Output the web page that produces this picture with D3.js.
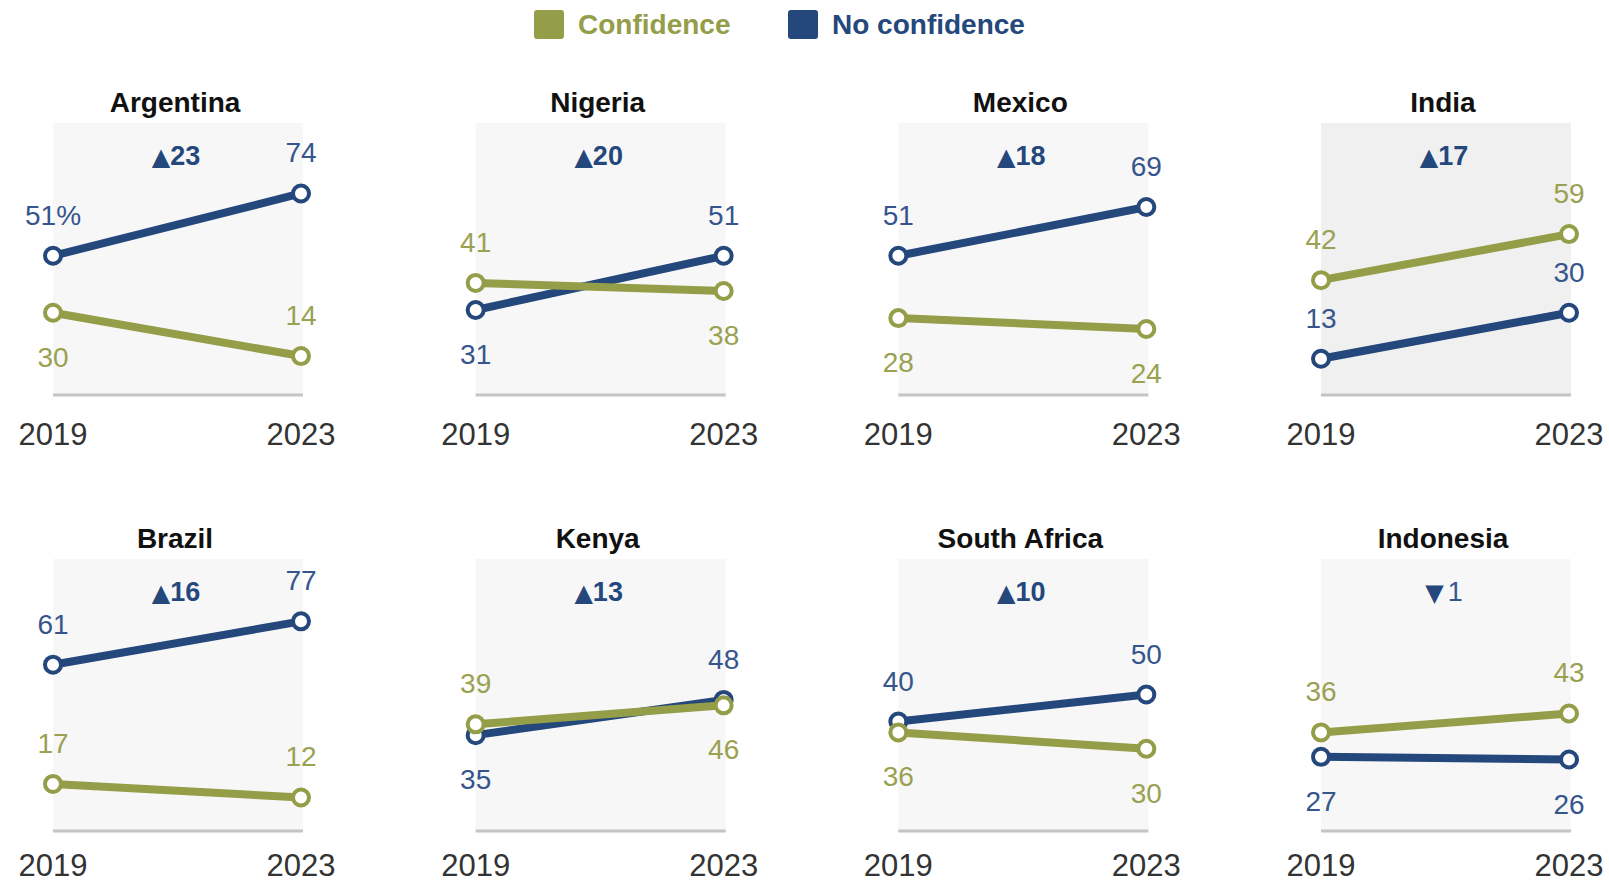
<!DOCTYPE html>
<html>
<head>
<meta charset="utf-8">
<script src="https://cdn.jsdelivr.net/npm/d3@7"></script>
<style>
  html, body { margin: 0; padding: 0; background: #ffffff; }
  svg { display: block; }
</style>
</head>
<body>
<svg id="chart" width="1609" height="885"></svg>
<script>
// Share of people with confidence / no confidence, 2019 vs 2023
const countries = ["Argentina", "Nigeria", "Mexico", "India", "Brazil", "Kenya", "South Africa", "Indonesia"];
const years = ["2019", "2023"];
const confidence   = [[30, 14], [41, 38], [28, 24], [42, 59], [17, 12], [39, 46], [36, 30], [36, 43]];
const noConfidence = [[51, 74], [31, 51], [51, 69], [13, 30], [61, 77], [35, 48], [40, 50], [27, 26]];
// whether the change in "no confidence" is statistically significant
const significant = [true, true, true, true, true, true, true, false];
// panel shaded a little darker
const highlighted = ["India"];

// label placement (above/below the point) for each country, per year
const confLabelSide = [
  ["below", "above"], ["above", "below"], ["below", "below"], ["above", "above"],
  ["above", "above"], ["above", "below"], ["below", "below"], ["above", "above"]
];
const noConfLabelSide = [
  ["above", "above"], ["below", "above"], ["above", "above"], ["above", "above"],
  ["above", "above"], ["below", "above"], ["above", "above"], ["below", "below"]
];

const colors = {
  conf: "#949d48",
  confText: "#9aa152",
  noConf: "#24477c",
  noConfText: "#36558d",
  bg: "#f7f7f7",
  bgHi: "#f0f0f0",
  base: "#c4c4c4",
  year: "#333333"
};

const sans = "'Liberation Sans', Arial, sans-serif";
const svg = d3.select("#chart");

// ----- legend -----
const legendItems = [
  { label: "Confidence", color: colors.conf, x: 534 },
  { label: "No confidence", color: colors.noConf, x: 788 }
];
const legend = svg.append("g");
legendItems.forEach(it => {
  legend.append("rect")
    .attr("x", it.x).attr("y", 10)
    .attr("width", 30).attr("height", 29)
    .attr("rx", 3)
    .attr("fill", it.color);
  legend.append("text")
    .attr("x", it.x + 44).attr("y", 34)
    .attr("font-family", sans)
    .attr("font-weight", 700)
    .attr("font-size", 28)
    .attr("fill", it.color)
    .text(it.label);
});

// ----- small multiples -----
const panelW = 250, panelH = 271;
const colX = d3.scaleLinear().domain([0, 3]).range([53, 1321]);
const rowY = d3.scaleLinear().domain([0, 1]).range([123, 559]);

const x = d3.scalePoint().domain(years).range([0, 248]);
const y = d3.scaleLinear().domain([0, 100]).range([panelH, 0]);

const line = d3.line()
  .x((d, i) => x(years[i]))
  .y(d => y(d));

countries.forEach((name, ci) => {
  const col = ci % 4, row = Math.floor(ci / 4);
  const g = svg.append("g")
    .attr("transform", `translate(${colX(col)},${rowY(row)})`);

  g.append("rect")
    .attr("x", 0).attr("y", 0)
    .attr("width", panelW).attr("height", panelH)
    .attr("fill", highlighted.includes(name) ? colors.bgHi : colors.bg);

  g.append("line")
    .attr("x1", 0).attr("x2", panelW)
    .attr("y1", panelH + 1).attr("y2", panelH + 1)
    .attr("stroke", colors.base)
    .attr("stroke-width", 3);

  // title
  g.append("text")
    .attr("x", panelW / 2 - 3).attr("y", -11)
    .attr("text-anchor", "middle")
    .attr("font-family", sans)
    .attr("font-weight", 700)
    .attr("font-size", 28)
    .attr("fill", "#111111")
    .text(name);

  // change in "no confidence"
  const diff = noConfidence[ci][1] - noConfidence[ci][0];
  const delta = g.append("text")
    .attr("x", panelW / 2 - 2).attr("y", 42)
    .attr("text-anchor", "middle")
    .attr("font-family", sans)
    .attr("font-size", 27)
    .attr("fill", colors.noConf);
  delta.append("tspan")
    .attr("font-family", "'DejaVu Sans', sans-serif")
    .attr("font-weight", 700)
    .attr("font-size", 24)
    .text(diff >= 0 ? "\u25B2" : "\u25BC");
  delta.append("tspan")
    .attr("font-weight", significant[ci] ? 700 : 400)
    .attr("fill", significant[ci] ? colors.noConf : colors.noConfText)
    .attr("dx", significant[ci] ? 0 : 4)
    .text(Math.abs(diff));

  // series: no confidence beneath, confidence on top
  const series = [
    { vals: noConfidence[ci], color: colors.noConf, text: colors.noConfText, sides: noConfLabelSide[ci], key: "no" },
    { vals: confidence[ci], color: colors.conf, text: colors.confText, sides: confLabelSide[ci], key: "yes" }
  ];

  series.forEach(s => {
    const sg = g.append("g");
    sg.append("path")
      .datum(s.vals)
      .attr("d", line)
      .attr("fill", "none")
      .attr("stroke", s.color)
      .attr("stroke-width", 8)
      .attr("stroke-linecap", "round");
    sg.selectAll("circle")
      .data(s.vals)
      .join("circle")
      .attr("cx", (d, i) => x(years[i]))
      .attr("cy", d => y(d))
      .attr("r", 8)
      .attr("fill", "#ffffff")
      .attr("stroke", s.color)
      .attr("stroke-width", 4);
  });

  // value labels
  series.forEach(s => {
    g.selectAll(null)
      .data(s.vals)
      .join("text")
      .attr("x", (d, i) => x(years[i]))
      .attr("y", (d, i) => y(d) + (s.sides[i] === "above" ? -31 : 54))
      .attr("text-anchor", "middle")
      .attr("font-family", sans)
      .attr("font-size", 28)
      .attr("fill", s.text)
      .text((d, i) => (ci === 0 && i === 0 && s.key === "no") ? d + "%" : d);
  });

  // year axis labels
  g.selectAll(null)
    .data(years)
    .join("text")
    .attr("x", d => x(d))
    .attr("y", panelH + (row === 0 ? 51 : 46))
    .attr("text-anchor", "middle")
    .attr("font-family", sans)
    .attr("font-size", 31)
    .attr("fill", colors.year)
    .text(d => d);
});
</script>
</body>
</html>
